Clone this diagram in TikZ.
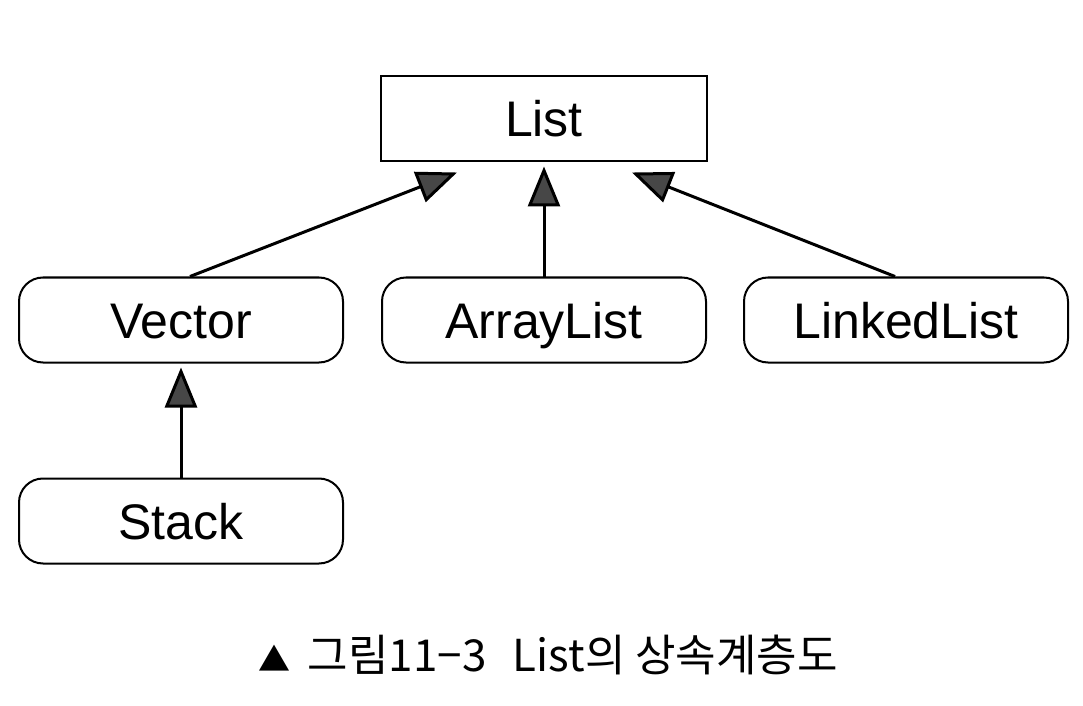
\documentclass[tikz,border=0pt]{standalone}
\usepackage{fontspec}
\setmainfont{Liberation Sans}
\newfontfamily\krfont{Noto Sans CJK KR}
\usepackage{tikz}
\usetikzlibrary{positioning,arrows.meta}
\tikzset{
  inherit/.style={-{Triangle[length=20pt, width=16pt, fill=black!72]}, line width=1.5pt},
  classbox/.style={draw, line width=1pt, fill=white, minimum width=163pt, minimum height=42.5pt, align=center, text height=18pt, text depth=0pt},
  subbox/.style={draw, rounded corners=12pt, line width=1pt, fill=white, minimum width=162pt, minimum height=42.5pt, align=center, text height=18pt, text depth=0pt},
  captiontext/.style={font=\krfont\fontsize{22}{26}\selectfont}
}
\begin{document}
\begin{tikzpicture}[x=0.5pt, y=-0.5pt, >=Latex, every node/.style={font=\fontsize{25}{30}\selectfont}]
      \useasboundingbox (0,0) rectangle (1083,706);
      \node[classbox] (list) at (544,119) {List};
      \node[subbox] (vector) at (181,320) {Vector};
      \node[subbox] (arraylist) at (544,320) {ArrayList};
      \node[subbox] (linkedlist) at (906,320) {LinkedList};
      \node[subbox] (stack) at (181,521) {Stack};
      \draw[inherit] ([xshift=4.5pt]vector.north) -- ([xshift=-43.5pt, yshift=-5pt]list.south);
      \draw[inherit, shorten >=2pt] (arraylist.north) -- (list.south);
      \draw[inherit] ([xshift=-5.5pt]linkedlist.north) -- ([xshift=44pt, yshift=-5pt]list.south);
      \draw[inherit, shorten >=2pt] (stack.north) -- (vector.south);
      \node[captiontext] (caption) at (548,655) {{\fontsize{16}{16}\selectfont ▲}\hspace{0.4em}그림11−3\hspace{0.6em}List의 상속계층도};
    \end{tikzpicture}
\end{document}
